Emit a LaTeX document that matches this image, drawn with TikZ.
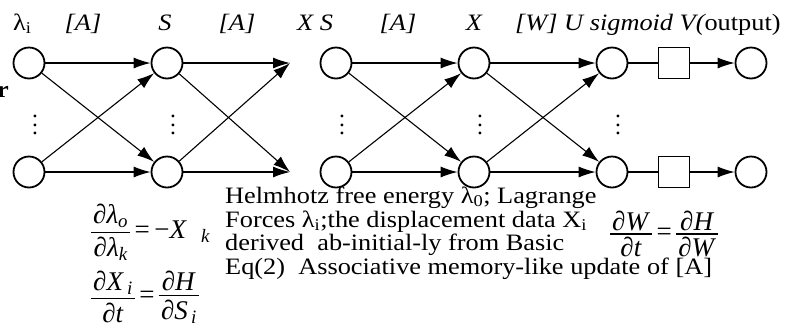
\RequirePackage{fix-cm}
\documentclass[tikz,border=0pt]{standalone}
\usepackage{amsmath}
\usepackage{fontspec}
\setmainfont{Liberation Serif}
\usetikzlibrary{arrows.meta,positioning}
\tikzset{neuron/.style={circle, draw, line width=1.8pt, minimum size=31pt, inner sep=0pt}}
\tikzset{unitbox/.style={rectangle, draw, line width=1.8pt, minimum size=31pt, inner sep=0pt}}
\tikzset{link/.style={line width=1.1pt, -{Latex[length=17pt,width=11pt]}}}
\tikzset{wire/.style={line width=1.1pt}}
\tikzset{txt/.style={font=\fontsize{23.5}{22.5}\selectfont, inner sep=0pt, xscale=1.12, transform shape}}
\tikzset{eqn/.style={font=\fontsize{27}{27}\selectfont, inner sep=0pt, anchor=west}}
\tikzset{dotcol/.style={font=\fontsize{23.5}{22.5}\selectfont, inner sep=0pt}}
\newcommand{\colDots}{\vbox{\baselineskip=8.5pt\lineskiplimit=0pt\hbox{.}\hbox{.}\hbox{.}}}
\newcommand{\fracgap}{4pt}
\newcommand{\pfrac}[2]{$\vcenter{\offinterlineskip\halign{\hfil\kern2pt##\kern2pt\hfil\cr #1\cr\noalign{\kern\fracgap\hrule height 1.1pt\kern\fracgap}#2\cr}}$}
\newcommand{\sub}[1]{\textsubscript{\itshape #1}}

\begin{document}
\begin{tikzpicture}[x=1pt,y=-1pt]
\useasboundingbox (0,0) rectangle (807,333);
% input lambda_i
\node (a1) at (29,63)[neuron]{};
\node (a2) at (29,172)[neuron]{};
% S
\node (b1) at (167,63)[neuron]{};
\node (b2) at (167,172)[neuron]{};
\coordinate (c1) at (290,63);
\coordinate (c2) at (290,172);
% S again
\node (d1) at (336,63)[neuron]{};
\node (d2) at (336,172)[neuron]{};
% X
\node (e1) at (474,63)[neuron]{};
\node (e2) at (474,172)[neuron]{};
% U, sigmoid, V
\node (f1) at (612,63)[neuron]{};
\node (f2) at (612,172)[neuron]{};
\node (g1) at (674,63)[unitbox]{};
\node (g2) at (674,172)[unitbox]{};
\node (h1) at (751,63)[neuron]{};
\node (h2) at (751,172)[neuron]{};

\node (da) at (35,125)[dotcol]{\colDots};
\node (db) at (173,125)[dotcol]{\colDots};
\node (dd) at (342,125)[dotcol]{\colDots};
\node (de) at (480,125)[dotcol]{\colDots};
\node (df) at (618,125)[dotcol]{\colDots};

\draw[link] (a1) -- (b1);
\draw[link] (a1) -- (b2);
\draw[link] (a2) -- (b1);
\draw[link] (a2) -- (b2);
\draw[link] (b1) -- (c1);
\draw[link] (b1) -- (c2);
\draw[link] (b2) -- (c1);
\draw[link] (b2) -- (c2);
\draw[link] (d1) -- (e1);
\draw[link] (d1) -- (e2);
\draw[link] (d2) -- (e1);
\draw[link] (d2) -- (e2);
\draw[link] (e1) -- (f1);
\draw[link] (e1) -- (f2);
\draw[link] (e2) -- (f1);
\draw[link] (e2) -- (f2);
\draw[wire] (f1) -- (g1);
\draw[wire] (f2) -- (g2);
\draw[link] (g1) -- (h1);
\draw[link] (g2) -- (h2);

% layer labels
\node (la) at (13,30)[txt, anchor=base west]{λ\textsubscript{i}};
\node (lb) at (83,30)[txt, anchor=base]{\itshape [A]};
\node (lc) at (165,30)[txt, anchor=base]{\itshape S};
\node (ld) at (237,30)[txt, anchor=base]{\itshape [A]};
\node (le) at (297,30)[txt, anchor=base west]{\itshape X S};
\node (lf) at (398,30)[txt, anchor=base]{\itshape [A]};
\node (lg) at (474,30)[txt, anchor=base]{\itshape X};
\node (lh) at (515,30)[txt, anchor=base west]{\itshape [W] U sigmoid V(\upshape output)};
\node (lr) at (9,97)[txt, anchor=base east]{\bfseries r};

% notes
\node (t1) at (225,203)[txt, anchor=base west]{Helmhotz free energy λ\textsubscript{0}; Lagrange};
\node (t2) at (225,227)[txt, anchor=base west]{Forces λ\textsubscript{i};the displacement data X\textsubscript{i}};
\node (t3) at (225,250)[txt, anchor=base west]{derived\ \ ab-initial-ly from Basic};
\node (t4) at (225,274)[txt, anchor=base west]{Eq(2)\ \ Associative memory-like update of [A]};

% equations
\node (q1) at (91,232)[eqn]{\pfrac{∂\textit{λ}\sub{o}}{∂\textit{λ}\sub{k}}\,=\,−\textit{X}\sub{\ \ \ k}};
\node (q2) at (91,297)[eqn]{\pfrac{∂\textit{X}\sub{\,i}}{∂\textit{t}}\,=\,\pfrac{∂\textit{H}}{∂\textit{S}\sub{\,i}}};
\node (q3) at (610,234)[eqn]{\renewcommand{\fracgap}{2.5pt}\pfrac{∂\textit{W}}{∂\textit{t}}\,=\,\pfrac{∂\textit{H}}{∂\textit{W}}};
\end{tikzpicture}
\end{document}
